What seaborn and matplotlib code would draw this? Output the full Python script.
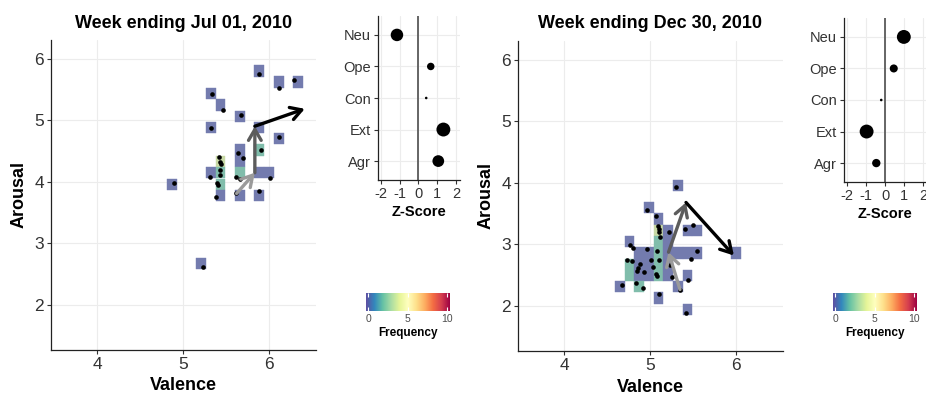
import numpy as np
import matplotlib
matplotlib.use("Agg")
import matplotlib.pyplot as plt
import seaborn as sns
from matplotlib.colors import Normalize

# ---------------- data ----------------
week_titles = ["Week ending Jul 01, 2010", "Week ending Dec 30, 2010"]
traits = ["Neu", "Ope", "Con", "Ext", "Agr"]
jul_z = [-1.14, 0.65, 0.41, 1.32, 1.05]
dec_z = [0.98, 0.45, -0.21, -0.98, -0.47]

valence_ticks = [4, 5, 6]
arousal_ticks = [2, 3, 4, 5, 6]
z_ticks = [-2, -1, 0, 1, 2]
freq_ticks = [0, 5, 10]

# individual observations (black dots)
jul_dot_v = [4.892, 5.229, 5.337, 5.467, 5.331, 5.674, 5.886, 6.119, 6.294, 6.122,
             5.909, 5.645, 5.698, 5.422, 5.434, 5.438, 5.434, 5.430, 5.317, 5.392,
             5.403, 5.622, 5.669, 6.017, 5.387, 5.620, 5.880]
jul_dot_a = [3.976, 2.621, 5.436, 5.174, 4.886, 5.089, 5.751, 5.532, 5.660, 4.727,
             4.515, 4.467, 4.387, 4.410, 4.333, 4.285, 4.192, 4.117, 4.078, 3.987,
             3.954, 4.089, 4.054, 4.073, 3.748, 3.813, 3.850]

dec_dot_v = [5.302, 4.965, 5.070, 5.097, 5.105, 5.105, 5.116, 5.221, 5.407, 5.504,
             4.762, 4.802, 4.969, 5.076, 5.552, 5.480, 4.733, 4.795, 4.880, 5.015,
             5.105, 5.233, 5.035, 4.864, 4.845, 4.930, 5.066, 5.085, 5.260, 5.442,
             4.674, 4.831, 4.919, 5.349, 5.105, 5.419]
dec_dot_a = [3.935, 3.553, 3.460, 3.298, 3.260, 3.195, 3.114, 3.207, 3.252, 3.309,
             2.984, 2.943, 2.919, 2.902, 2.902, 2.772, 2.740, 2.728, 2.686, 2.751,
             2.740, 2.663, 2.631, 2.610, 2.577, 2.545, 2.512, 2.480, 2.475, 2.415,
             2.338, 2.366, 2.296, 2.268, 2.198, 1.894]

# 2-D frequency bins (bin centre valence, bin centre arousal, count)
jul_tile_v = [4.872, 5.211, 5.324, 5.324, 5.324, 5.437, 5.437, 5.437, 5.437, 5.437,
              5.663, 5.663, 5.663, 5.663, 5.663, 5.889, 5.889, 5.889, 5.889, 6.002,
              5.889, 6.115, 6.115, 6.341]
jul_tile_a = [3.965, 2.679, 5.439, 4.886, 4.150, 5.252, 4.333, 4.150, 3.965, 3.780,
              5.065, 4.520, 4.333, 4.150, 3.780, 5.805, 4.886, 4.520, 4.150, 4.150,
              3.780, 5.626, 4.707, 5.626]
jul_tile_n = [1, 1, 1, 1, 1, 1, 3, 2, 2, 1,
              1, 1, 1, 2, 1, 1, 1, 2, 1, 1,
              1, 1, 1, 1]

dec_tile_v = [5.324, 4.985, 5.098, 5.098, 5.211, 5.437, 5.550, 4.759, 5.098, 5.211,
              4.872, 4.985, 5.098, 5.211, 5.324, 5.437, 5.550, 6.002,
              4.759, 4.872, 4.985, 5.098, 5.211,
              4.759, 4.872, 4.985, 5.098, 5.211, 5.437,
              4.646, 4.872, 5.324, 5.098, 5.437]
dec_tile_a = [3.965, 3.597, 3.413, 3.230, 3.230, 3.230, 3.230, 3.046, 3.046, 3.046,
              2.863, 2.863, 2.863, 2.863, 2.863, 2.863, 2.863, 2.863,
              2.679, 2.679, 2.679, 2.679, 2.679,
              2.496, 2.496, 2.496, 2.496, 2.496, 2.496,
              2.312, 2.312, 2.312, 2.129, 1.945]
dec_tile_n = [1, 1, 1, 3, 1, 1, 1, 1, 2, 1,
              1, 1, 2, 1, 1, 1, 1, 1,
              2, 1, 1, 2, 1,
              2, 1, 1, 2, 1, 1,
              1, 2, 1, 1, 1]

# weekly centroid path (arrows)
jul_path_v = [5.624, 5.837, 5.837, 6.419]
jul_path_a = [3.813, 4.150, 4.907, 5.190]
dec_path_v = [5.349, 5.215, 5.419, 5.977]
dec_path_a = [2.268, 2.875, 3.683, 2.821]

# ---------------- style ----------------
sns.set_theme(style="white")
plt.rcParams["font.family"] = ["Liberation Sans", "DejaVu Sans"]
plt.rcParams["axes.unicode_minus"] = False

W, H = 926, 394
fig = plt.figure(figsize=(W / 100, H / 100), dpi=100)


def px(x0, y0, x1, y1):
    return [x0 / W, 1 - y1 / H, (x1 - x0) / W, (y1 - y0) / H]


TILE_W, TILE_H = 0.113, 0.1835
cmap = plt.get_cmap("Spectral_r")
tile_norm = Normalize(0.824, 6.71)
ALPHA = 0.66
BACK = np.array([0.70, 0.70, 0.72])
arrow_cols = ["#9a9a9a", "#5c5c5c", "#000000"]
TICK_COL = "#333333"


def tile_colors(n):
    rgba = cmap(tile_norm(np.asarray(n, dtype=float)))[:, :3]
    return ALPHA * rgba + (1 - ALPHA) * BACK


def style_axes(ax, labsize):
    for s in ["top", "right"]:
        ax.spines[s].set_visible(False)
    for s in ["left", "bottom"]:
        ax.spines[s].set_color("#222222")
        ax.spines[s].set_linewidth(0.9)
    ax.grid(True, color="#ececec", lw=0.8)
    ax.set_axisbelow(True)
    ax.tick_params(direction="out", length=3, width=0.8, color=TICK_COL,
                   labelsize=labsize, labelcolor=TICK_COL, pad=2,
                   bottom=True, left=True)


def main_panel(ax, tv, ta, tn, dv, da, pv, pa, title):
    cols = tile_colors(tn)
    ax.bar(tv, [TILE_H] * len(tv), width=TILE_W,
           bottom=np.asarray(ta) - TILE_H / 2, color=cols, edgecolor=cols,
           linewidth=0.3, zorder=2)
    sns.scatterplot(x=dv, y=da, color="black", s=11, linewidth=0, ax=ax, zorder=3)
    for i in range(3):
        ax.annotate("", xy=(pv[i + 1], pa[i + 1]), xytext=(pv[i], pa[i]),
                    arrowprops=dict(arrowstyle="->,head_length=0.65,head_width=0.38",
                                    color=arrow_cols[i], lw=2.4, shrinkA=0, shrinkB=0,
                                    mutation_scale=12),
                    zorder=4)
    ax.set_xlim(3.46, 6.55)
    ax.set_ylim(1.268, 6.309)
    ax.set_xticks(valence_ticks)
    ax.set_yticks(arousal_ticks)
    style_axes(ax, 12.5)
    ax.set_xlabel("Valence", fontweight="bold", fontsize=13, labelpad=4, color="black")
    ax.set_ylabel("Arousal", fontweight="bold", fontsize=13, labelpad=5, color="black")
    ax.set_title(title, fontweight="bold", fontsize=13, pad=9, color="black")


def z_panel(ax, z, x0):
    ypos = np.arange(len(traits))[::-1]
    ax.axvline(0, color="#5a5a5a", lw=1.3, zorder=1)
    sns.scatterplot(x=z, y=ypos, size=np.abs(z), sizes=(3.5, 100), color="black",
                    linewidth=0, legend=False, ax=ax, zorder=3)
    ax.set_yticks(ypos)
    ax.set_yticklabels(traits)
    ax.set_ylim(-0.6, 4.6)
    ax.set_xlim(x0, 2.2)
    ax.set_xticks(z_ticks)
    style_axes(ax, 10.5)
    ax.set_xlabel("Z-Score", fontweight="bold", fontsize=10.5, labelpad=3, color="black")
    ax.set_ylabel("")


def colorbar(cax):
    grad = np.linspace(0, 10, 256)[None, :]
    cax.imshow(grad, extent=(-0.3, 10.4, 0, 1), aspect="auto", cmap="Spectral_r",
               vmin=0, vmax=10)
    cax.set_xlim(-0.3, 10.4)
    cax.set_ylim(0, 1)
    cax.set_yticks([])
    cax.set_xticks(freq_ticks)
    for s in cax.spines.values():
        s.set_visible(False)
    cax.tick_params(axis="x", length=0, labelsize=7.5, labelcolor="#4d4d4d", pad=2.5)
    cax.vlines(freq_ticks, 0, 0.2, color="white", lw=0.8)
    cax.vlines(freq_ticks, 0.8, 1, color="white", lw=0.8)
    cax.set_xlabel("Frequency", fontweight="bold", fontsize=8.5, labelpad=2, color="black")
    cax.grid(False)


ax1 = fig.add_axes(px(51, 40, 316, 350))
main_panel(ax1, jul_tile_v, jul_tile_a, jul_tile_n, jul_dot_v, jul_dot_a,
           jul_path_v, jul_path_a, week_titles[0])
ax2 = fig.add_axes(px(518, 41, 783, 351))
main_panel(ax2, dec_tile_v, dec_tile_a, dec_tile_n, dec_dot_v, dec_dot_a,
           dec_path_v, dec_path_a, week_titles[1])

az1 = fig.add_axes(px(377.7, 16, 460, 180))
z_panel(az1, jul_z, -2.16)
az2 = fig.add_axes(px(844, 18, 927, 182))
z_panel(az2, dec_z, -2.17)

cb1 = fig.add_axes(px(366, 293, 450, 311))
colorbar(cb1)
cb2 = fig.add_axes(px(833, 293, 917, 311))
colorbar(cb2)

fig.savefig("out.png", dpi=100, facecolor="white")
